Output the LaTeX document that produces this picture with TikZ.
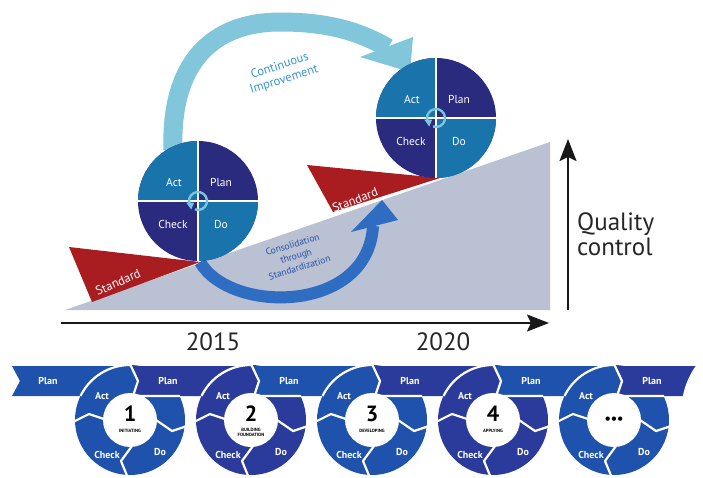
\documentclass[tikz,border=0pt]{standalone}
\usepackage{fontspec}
\setmainfont{PT Sans}
\usetikzlibrary{arrows.meta}
\definecolor{actblue}{HTML}{1A74AC}
\definecolor{navy}{HTML}{2A2A7E}
\definecolor{iconblue}{HTML}{7AC6DB}
\definecolor{ciblue}{HTML}{82C6DB}
\definecolor{citext}{HTML}{3A94CC}
\definecolor{consol}{HTML}{2E6DC2}
\definecolor{constext}{HTML}{2C4FA6}
\definecolor{stdred}{HTML}{A91D21}
\definecolor{slopegray}{HTML}{B9C1D3}
\definecolor{cA}{HTML}{1F52AC}
\definecolor{cB}{HTML}{2B3B9B}
\tikzset{
  sep/.style={white, line width=2.2pt, line join=round},
  plab/.style={text=white, font=\bfseries\fontsize{10}{10}\selectfont, inner sep=0pt},
  toplab/.style={text=white, font=\fontsize{11.5}{12}\selectfont, inner sep=0pt},
  numlab/.style={text=black, font=\bfseries\fontsize{22}{22}\selectfont, inner sep=0pt},
  sublab/.style={text=black, font=\bfseries\fontsize{4.6}{5}\selectfont, inner sep=0pt, align=center},
  stdlab/.style={text=white, font=\fontsize{12.5}{13}\selectfont, inner sep=0pt},
  axlab/.style={text=black!85, font=\fontsize{25}{26}\selectfont, inner sep=0pt},
  axis/.style={line width=2pt, black!90, -{Stealth[length=22pt,width=17pt,inset=4pt]}}
}
\newcommand\topcycle[3]{%
  \fill[navy] (#2,#3) circle (60);
  \fill[actblue] (#2,#3) -- ++(-60,0) arc[start angle=180,end angle=270,radius=60] -- cycle;
  \fill[actblue] (#2,#3) -- ++(60,0) arc[start angle=0,end angle=90,radius=60] -- cycle;
  \draw[white, line width=2pt] (#2-60,#3) -- (#2+60,#3);
  \draw[white, line width=2pt] (#2,#3-60) -- (#2,#3+60);
  \draw[iconblue, line width=2.4pt] (#2,#3) ++(150:9) arc[start angle=150,end angle=470,radius=9];
  \fill[iconblue] (#2,#3) ++(150:9) ++(-4,-3) -- ++(8,0) -- ++(-3,7) -- cycle;
  \node[toplab] (#1act) at (#2-24,#3-19) {Act};
  \node[toplab] (#1plan) at (#2+23,#3-19) {Plan};
  \node[toplab] (#1check) at (#2-25,#3+23) {Check};
  \node[toplab] (#1do) at (#2+23,#3+23) {Do};
}
\begin{document}
\begin{tikzpicture}[x=1pt,y=-1pt]
\useasboundingbox (0,0) rectangle (703,477);
\begin{scope}
\clip (0,0) rectangle (703,477);
% slope
\fill[slopegray] (65,310) -- (550,310) -- (550,142) -- cycle;
% consolidation arrow
\draw[consol, line width=12pt] (200,262) .. controls (230,314) and (368,314) .. (373,226);
\fill[consol] (351,232) -- (382,200) -- (398,220) -- cycle;
% standards
\fill[stdred] (69,247) -- (200,262) -- (92,302) -- cycle;
\fill[stdred] (307,165) -- (440,178) -- (333,212) -- cycle;
\node[stdlab, rotate=24] (std1) at (118,282) {Standard};
\node[stdlab, rotate=21] (std2) at (355,200) {Standard};
\node[rotate=17, align=center, text=constext, font=\fontsize{9.5}{12}\selectfont, inner sep=0pt] (cons) at (296,256) {Consolidation\\through\\Standardization};
% continuous improvement arrow
\draw[ciblue, line width=19pt] (173,150) .. controls (170,60) and (215,22) .. (280,22) .. controls (330,22) and (360,32) .. (388,48);
\fill[ciblue] (413,37) -- (410,72) -- (360,57) -- cycle;
\node[rotate=18, align=center, text=citext, font=\fontsize{12.5}{14}\selectfont, inner sep=0pt] (ci) at (282,73) {Continuous\\Improvement};
% PDCA circles
\topcycle{a}{198}{201}
\topcycle{b}{436}{118}
% axes
\coordinate (xs) at (61,323); \coordinate (xe) at (549,323);
\coordinate (ys) at (568,310); \coordinate (ye) at (568,139);
\draw[axis] (xs) -- (xe);
\draw[axis] (ys) -- (ye);
\node[axlab] (y1) at (213,342) {2015};
\node[axlab] (y2) at (443,342) {2020};
\node[axlab, anchor=base west] (q1) at (577,230) {Quality};
\node[axlab, anchor=base west] (q2) at (577,255) {control};
% bottom chain
\fill[cA] (12,366) -- (135,366) -- (135,396) -- (12,396) -- (20,381) -- cycle;
\foreach \cx/\col/\ncol/\nx in {130/cA/cB/251, 251/cB/cA/372, 372/cA/cB/493, 493/cB/cA/614}{
  \fill[\col] (\cx,420) circle (55);
  \fill[\ncol] (\cx,366) -- (\nx,366) -- (\nx,396) -- (\cx+3,396) -- (\cx+8,381) -- cycle;
}
\fill[cA] (614,420) circle (55);
\fill[cB] (614,366) -- (697,366) .. controls (690,376) and (686,386) .. (684,396) -- (617,396) -- (622,381) -- cycle;
\foreach \cx in {130,251,372,493,614}{
  \draw[sep] (\cx,420) ++(206:55) arc[start angle=206,end angle=270,radius=55];
  \draw[sep] (\cx,364) -- (\cx+8,381) -- (\cx+3,396) -- (\cx+50,396);
  \draw[sep] (\cx-57,422) -- (\cx-41,414) -- (\cx-26,419);
  \draw[sep] (\cx+26,420) -- (\cx+42,431) -- (\cx+57,426);
  \draw[sep] (\cx-2,478) -- (\cx-9,461) -- (\cx+2,446);
  \fill[white] (\cx,420) circle (27);
}
\draw[sep] (684,396) .. controls (686,386) and (690,376) .. (697,366);
\node[plab] (p0) at (48,381) {Plan};
\foreach \cx [count=\i] in {130,251,372,493,614}{
  \node[plab] (plan\i) at (\cx+38,381) {Plan};
  \node[plab] (act\i) at (\cx-28,396) {Act};
  \node[plab] (check\i) at (\cx-23,455) {Check};
  \node[plab] (do\i) at (\cx+30,452) {Do};
}
\node[numlab] (n1) at (130,414) {1};
\node[sublab] (s1) at (130,431) {INITIATING};
\node[numlab] (n2) at (251,414) {2};
\node[sublab] (s2) at (251,432) {BUILDING\\FOUNDATION};
\node[numlab] (n3) at (372,414) {3};
\node[sublab] (s3) at (372,431) {DEVELOPING};
\node[numlab] (n4) at (493,414) {4};
\node[sublab] (s4) at (493,431) {APPLYING};
\node[text=black, font=\bfseries\fontsize{14}{14}\selectfont, inner sep=0pt] (n5) at (614,420) {•••};
\end{scope}
\end{tikzpicture}
\end{document}
